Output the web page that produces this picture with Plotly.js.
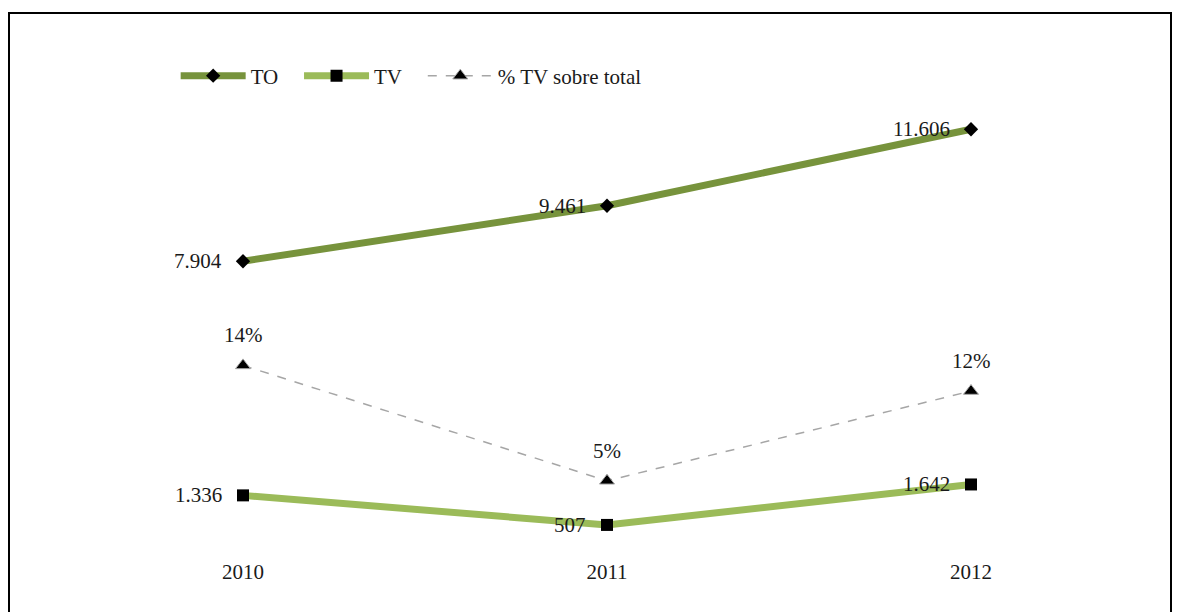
<!DOCTYPE html>
<html>
<head>
<meta charset="utf-8">
<script src="https://cdn.plot.ly/plotly-3.0.1.min.js"></script>
<style>
  html, body { margin: 0; padding: 0; background: #fff; }
  #wrap { position: relative; width: 1179px; height: 612px; overflow: hidden; }
  #chart { position: absolute; left: 0; top: 0; width: 1179px; height: 612px; }
  #frame { position: absolute; left: 8px; top: 12px; width: 1164px; height: 640px;
           border: 2px solid #000; pointer-events: none; box-sizing: border-box; }
</style>
</head>
<body>
<div id="wrap">
  <div id="chart"></div>
  <div id="frame"></div>
</div>
<script>
const years = ['2010', '2011', '2012'];
const toValues = [7904, 9461, 11606];
const tvValues = [1336, 507, 1642];
const pctValues = [0.14, 0.05, 0.12];
const seriesNames = ['TO', 'TV', '% TV sobre total'];

const FONT = 'Liberation Serif, Times New Roman, serif';
const FS = 21;
const PAD = '\u00a0\u00a0\u00a0';  // extra spacing after legend entries

const traces = [
  {
    x: years, y: toValues, name: seriesNames[0] + PAD, type: 'scatter', mode: 'lines+markers',
    line: { color: '#77933C', width: 7 },
    marker: { symbol: 'diamond', size: 11, color: '#000' },
    yaxis: 'y'
  },
  {
    x: years, y: tvValues, name: seriesNames[1] + PAD, type: 'scatter', mode: 'lines+markers',
    line: { color: '#9BBB59', width: 7 },
    marker: { symbol: 'square', size: 12, color: '#000' },
    yaxis: 'y'
  },
  {
    x: years, y: pctValues, name: seriesNames[2], type: 'scatter', mode: 'lines+markers',
    line: { color: '#A6A6A6', width: 1.5, dash: 'dash' },
    marker: { symbol: 'triangle-up', size: 13, color: '#000', line: { color: '#A6A6A6', width: 1 } },
    yaxis: 'y2'
  }
];

const fmt = v => Math.round(v).toString().replace(/\B(?=(\d{3})+(?!\d))/g, '.');
const annotations = [];
years.forEach((yr, i) => {
  // category axes: annotation x must be the category's serial index
  annotations.push({ x: i, y: toValues[i], xref: 'x', yref: 'y', text: fmt(toValues[i]), showarrow: false,
    xanchor: 'right', yanchor: 'middle', xshift: -19, font: { family: FONT, size: FS, color: '#1a1a1a' } });
  annotations.push({ x: i, y: tvValues[i], xref: 'x', yref: 'y', text: fmt(tvValues[i]), showarrow: false,
    xanchor: 'right', yanchor: 'middle', xshift: -19, font: { family: FONT, size: FS, color: '#1a1a1a' } });
  annotations.push({ x: i, y: pctValues[i], xref: 'x', yref: 'y2', text: Math.round(pctValues[i] * 100) + '%', showarrow: false,
    xanchor: 'center', yanchor: 'middle', yshift: 30, font: { family: FONT, size: FS, color: '#1a1a1a' } });
});

const hiddenAxis = { showgrid: false, zeroline: false, showline: false, showticklabels: false, ticks: '' };

const layout = {
  width: 1179, height: 612,
  margin: { l: 61, r: 26, t: 115, b: 69 },
  paper_bgcolor: '#fff', plot_bgcolor: '#fff',
  font: { family: FONT, size: FS, color: '#1a1a1a' },
  showlegend: true,
  legend: {
    orientation: 'h', x: 0.105, y: 1.091, xanchor: 'left', yanchor: 'middle',
    font: { family: FONT, size: FS, color: '#1a1a1a' }, bgcolor: 'rgba(0,0,0,0)',
    tracegroupgap: 0, itemwidth: 65
  },
  xaxis: {
    type: 'category', range: [-0.5, 2.5], showgrid: false, zeroline: false, showline: false,
    ticks: '', ticklabelstandoff: 14, tickfont: { family: FONT, size: FS, color: '#1a1a1a' }
  },
  yaxis: Object.assign({ range: [0, 12006] }, hiddenAxis),
  yaxis2: Object.assign({ range: [0.0015, 0.3353], overlaying: 'y', side: 'right' }, hiddenAxis),
  annotations: annotations
};

Plotly.newPlot('chart', traces, layout, { displayModeBar: false, staticPlot: true });
</script>
</body>
</html>
